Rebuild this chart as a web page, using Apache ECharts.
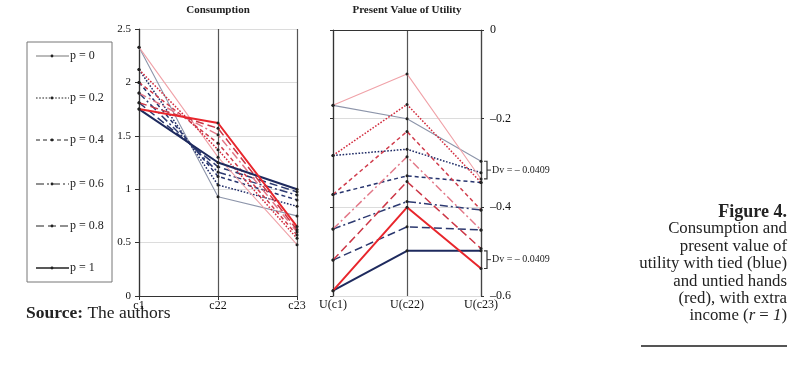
<!DOCTYPE html>
<html>
<head>
<meta charset="utf-8">
<script src="https://cdn.jsdelivr.net/npm/echarts@6/dist/echarts.min.js"></script>
<style>
html,body{margin:0;padding:0;background:#fff;}
#c{width:800px;height:371px;}
</style>
</head>
<body>
<div id="c"></div>
<script>
// ---- data ----
const pLabels = ['p = 0', 'p = 0.2', 'p = 0.4', 'p = 0.6', 'p = 0.8', 'p = 1'];
const consCats = ['c1', 'c22', 'c23'];
const utilCats = ['U(c1)', 'U(c22)', 'U(c23)'];
const consTicks = [0, 0.5, 1, 1.5, 2, 2.5];
const utilTicks = [-0.6, -0.4, -0.2, 0];
// consumption, tied hands (blue), one row per p
const consTied = [
  [2.33, 0.93, 0.75],
  [2.12, 1.04, 0.84],
  [2.00, 1.12, 0.90],
  [1.90, 1.16, 0.945],
  [1.81, 1.21, 0.975],
  [1.75, 1.25, 1.00]
];
// consumption, untied hands (red)
const consUntied = [
  [2.33, 1.30, 0.48],
  [2.12, 1.37, 0.54],
  [2.00, 1.43, 0.57],
  [1.90, 1.51, 0.60],
  [1.81, 1.57, 0.62],
  [1.75, 1.62, 0.65]
];
// present value of utility, tied (blue)
const utilTied = [
  [-0.170, -0.200, -0.296],
  [-0.283, -0.269, -0.322],
  [-0.371, -0.329, -0.344],
  [-0.449, -0.387, -0.406],
  [-0.519, -0.444, -0.451],
  [-0.588, -0.498, -0.498]
];
// present value of utility, untied (red)
const utilUntied = [
  [-0.170, -0.099, -0.336],
  [-0.283, -0.168, -0.344],
  [-0.371, -0.229, -0.406],
  [-0.449, -0.286, -0.451],
  [-0.519, -0.342, -0.493],
  [-0.588, -0.400, -0.538]
];
const dvText = 'Dv = \u2013 0.0409';

// ---- styles ----
const FONT = '"Liberation Serif", "DejaVu Serif", serif';
const dashes = ['solid', [1.6, 1.6], [4, 3], [8, 3, 2, 3], [8, 4], 'solid'];
const widths = [1.1, 1.5, 1.5, 1.5, 1.5, 2];
const blueCols = ['#8d95aa', '#1f2b66', '#27346e', '#2e3b72', '#2b386e', '#1e2a5e'];
const redCols  = ['#f0a2a8', '#d22a3c', '#d03c4c', '#e27888', '#cc3646', '#e8262c'];

const series = [];
function addSeries(data, cols, name, xi, yi) {
  data.forEach((row, i) => {
    series.push({
      type: 'line', name: name + ' ' + pLabels[i],
      xAxisIndex: xi, yAxisIndex: yi,
      data: row,
      symbol: 'circle', symbolSize: 3,
      itemStyle: { color: '#222' },
      lineStyle: { color: cols[i], width: widths[i], type: dashes[i] },
      emphasis: { disabled: true },
      animation: false, z: (i === 5 ? 4 : 3)
    });
  });
}
addSeries(consTied, blueCols, 'tied', 0, 0);
addSeries(consUntied, redCols, 'untied', 0, 0);
addSeries(utilTied, blueCols, 'tied', 1, 1);
addSeries(utilUntied, redCols, 'untied', 1, 1);

const axisTxt = { fontFamily: FONT, fontSize: 12, color: '#111' };

const option = {
  animation: false,
  grid: [
    { left: 139, right: 800 - 297, top: 29, bottom: 371 - 296 },
    { left: 333, right: 800 - 481, top: 30, bottom: 371 - 296 }
  ],
  xAxis: [
    { gridIndex: 0, type: 'category', data: consCats, boundaryGap: false,
      axisLine: { lineStyle: { color: '#333', width: 1.2 } },
      axisTick: { show: true, length: 4, lineStyle: { color: '#333' } },
      axisLabel: Object.assign({ margin: 4 }, axisTxt),
      splitLine: { show: true, lineStyle: { color: '#555', width: 1.2 } } },
    { gridIndex: 1, type: 'category', data: utilCats, boundaryGap: false, position: 'bottom',
      axisLine: { show: false, onZero: false },
      axisTick: { show: false },
      axisLabel: Object.assign({ margin: 3 }, axisTxt),
      splitLine: { show: true, lineStyle: { color: '#555', width: 1.2 } } },
    { gridIndex: 1, type: 'category', data: utilCats, boundaryGap: false, position: 'top',
      axisLine: { show: true, onZero: false, lineStyle: { color: '#333', width: 1.2 } },
      axisTick: { show: false }, axisLabel: { show: false }, splitLine: { show: false } }
  ],
  yAxis: [
    { gridIndex: 0, type: 'value', min: consTicks[0], max: consTicks[consTicks.length - 1], interval: 0.5,
      axisLine: { show: true, lineStyle: { color: '#333', width: 1.2 } },
      axisTick: { show: true, length: 4, lineStyle: { color: '#333' } },
      axisLabel: Object.assign({ margin: 8 }, axisTxt, { fontSize: 11 }),
      splitLine: { show: true, lineStyle: { color: '#dcdcdc', width: 1 } } },
    { gridIndex: 1, type: 'value', position: 'right', min: utilTicks[0], max: utilTicks[utilTicks.length - 1], interval: 0.2,
      axisLine: { show: true, lineStyle: { color: '#444', width: 1.2 } },
      axisTick: { show: true, length: 3, lineStyle: { color: '#333' } },
      axisLabel: Object.assign({ margin: 9,
        formatter: v => (Math.abs(v) < 1e-9 ? '0' : '\u2013' + Math.abs(v).toFixed(1)) }, axisTxt),
      splitLine: { show: true, lineStyle: { color: '#dcdcdc', width: 1 } } },
    { gridIndex: 1, type: 'value', position: 'left', min: utilTicks[0], max: utilTicks[utilTicks.length - 1], interval: 0.2,
      axisLine: { show: true, onZero: false, lineStyle: { color: '#333', width: 1.2 } },
      axisTick: { show: true, length: 3, inside: false, lineStyle: { color: '#333' } },
      axisLabel: { show: false }, splitLine: { show: false } }
  ],
  series: series
};

const chart = echarts.init(document.getElementById('c'), null, { renderer: 'canvas' });
chart.setOption(option);

// ---- annotations / legend / captions ----
const g = [];
g.push({ type: 'text', x: 218, y: 10, style: { text: 'Consumption', font: 'bold 11px ' + FONT, fill: '#222', textAlign: 'center', textVerticalAlign: 'middle' } });
g.push({ type: 'text', x: 407, y: 10, style: { text: 'Present Value of Utility', font: 'bold 11px ' + FONT, fill: '#222', textAlign: 'center', textVerticalAlign: 'middle' } });

// legend box
g.push({ type: 'rect', shape: { x: 27, y: 42, width: 85, height: 240 }, style: { fill: 'none', stroke: '#777', lineWidth: 1 } });
const legY = [56, 98, 140, 184, 226, 268];
pLabels.forEach((lab, i) => {
  const d = dashes[i];
  g.push({ type: 'line', shape: { x1: 36, y1: legY[i], x2: 69, y2: legY[i] },
    style: { stroke: i === 0 ? '#777' : '#222', lineWidth: i === 5 ? 1.6 : 1.2, lineDash: (d === 'solid' ? null : d) } });
  g.push({ type: 'circle', shape: { cx: 52, cy: legY[i], r: 1.4 }, style: { fill: '#222' } });
  g.push({ type: 'text', x: 70, y: legY[i], style: { text: lab, font: '12px ' + FONT, fill: '#222', textVerticalAlign: 'middle' } });
});

// Dv brackets tied to data
function bracket(vTop, vBot) {
  const p1 = chart.convertToPixel({ gridIndex: 1 }, ['U(c23)', vTop]);
  const p2 = chart.convertToPixel({ gridIndex: 1 }, ['U(c23)', vBot]);
  const x = p1[0] + 6;
  const ym = (p1[1] + p2[1]) / 2;
  g.push({ type: 'polyline', shape: { points: [[x - 3, p1[1]], [x, p1[1]], [x, p2[1]], [x - 3, p2[1]]] }, style: { stroke: '#333', lineWidth: 1.2, fill: 'none' } });
  g.push({ type: 'line', shape: { x1: x, y1: ym, x2: x + 4, y2: ym }, style: { stroke: '#333', lineWidth: 1 } });
  g.push({ type: 'text', x: x + 5, y: ym, style: { text: dvText, font: '10px ' + FONT, fill: '#222', textVerticalAlign: 'middle' } });
}
bracket(utilTied[0][2], utilUntied[0][2]);
bracket(utilTied[5][2], utilUntied[5][2]);

// caption
const capX = 787;
const capFont = '16.8px ' + FONT;
g.push({ type: 'text', x: capX, y: 212, style: { text: 'Figure 4.', font: 'bold 18px ' + FONT, fill: '#222', textAlign: 'right', textVerticalAlign: 'middle' } });
const capLines = ['Consumption and', 'present value of', 'utility with tied (blue)', 'and untied hands', '(red), with extra'];
capLines.forEach((t, i) => {
  g.push({ type: 'text', x: capX, y: 229 + i * 17.4, style: { text: t, font: capFont, fill: '#222', textAlign: 'right', textVerticalAlign: 'middle' } });
});
g.push({ type: 'text', x: capX, y: 229 + 5 * 17.4, style: {
  text: '{n|income (}{i|r}{n| = }{i|1}{n|)}', textAlign: 'right', textVerticalAlign: 'middle', fill: '#222',
  rich: { n: { font: capFont, fill: '#222' }, i: { font: 'italic ' + capFont, fill: '#222' } } } });
g.push({ type: 'line', shape: { x1: 641, y1: 346, x2: capX, y2: 346 }, style: { stroke: '#555', lineWidth: 2 } });

// source
g.push({ type: 'text', x: 26, y: 313, style: {
  text: '{b|Source:}{n| The authors}', textVerticalAlign: 'middle', fill: '#222',
  rich: { b: { font: 'bold 17.5px ' + FONT, fill: '#222' }, n: { font: '17.5px ' + FONT, fill: '#222' } } } });

chart.setOption({ graphic: g });
</script>
</body>
</html>
